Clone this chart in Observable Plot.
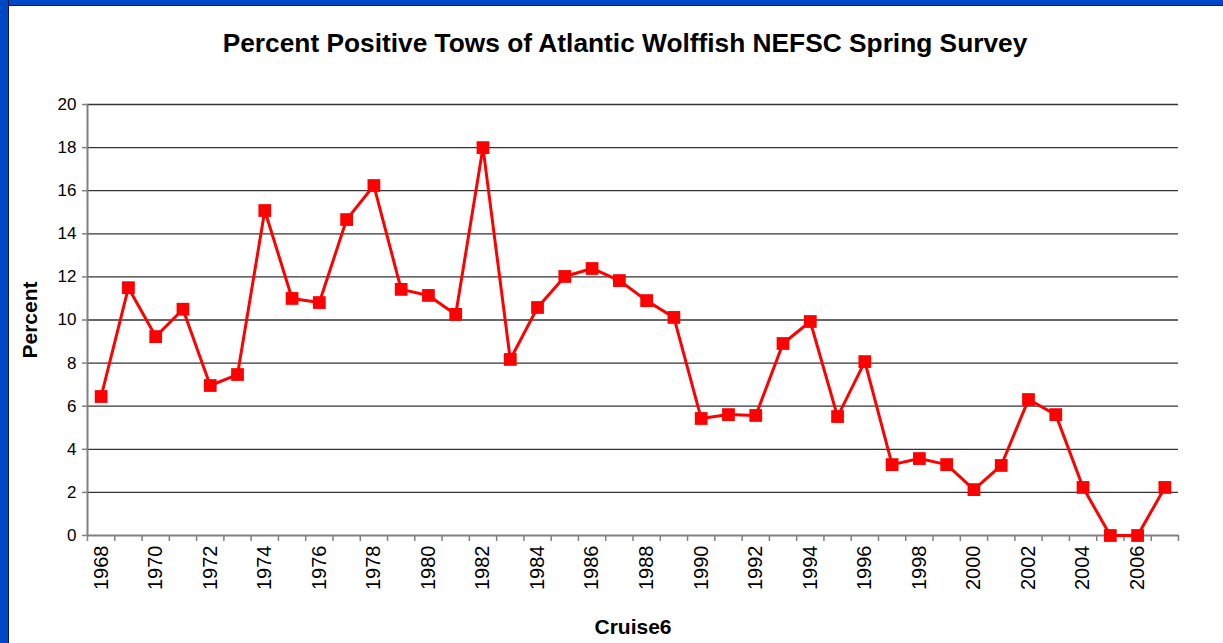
<!DOCTYPE html>
<html>
<head>
<meta charset="utf-8">
<script src="https://cdn.jsdelivr.net/npm/d3@7"></script>
<script src="https://cdn.jsdelivr.net/npm/@observablehq/plot@0.6"></script>
<style>
  html, body { margin: 0; padding: 0; background: #fff; }
  #wrap { position: relative; width: 1223px; height: 643px; overflow: hidden; background: #fff; font-family: "Liberation Sans", Arial, sans-serif; }
  #bl { position: absolute; left: 0; top: 0; width: 8px; height: 643px; background: #0047c8; border-right: 1.5px solid #0a1a3a; }
  #bt { position: absolute; left: 0; top: 0; width: 1223px; height: 5px; background: #0047c8; border-bottom: 1.5px solid #0a1a3a; }
  #chart { position: absolute; left: 0; top: 0; }
</style>
</head>
<body>
<div id="wrap">
  <div id="chart"></div>
  <div id="bt"></div>
  <div id="bl"></div>
</div>
<script>
const title = "Percent Positive Tows of Atlantic Wolffish NEFSC Spring Survey";
const xLabel = "Cruise6";
const yLabel = "Percent";
const years = d3.range(1968, 2008);
const percent = [6.45, 11.5, 9.23, 10.5, 6.96, 7.47, 15.08, 11.0, 10.81, 14.66,
  16.24, 11.42, 11.14, 10.26, 18.0, 8.17, 10.58, 12.02, 12.39, 11.83,
  10.9, 10.12, 5.43, 5.61, 5.57, 8.91, 9.93, 5.52, 8.07, 3.29,
  3.57, 3.29, 2.13, 3.25, 6.31, 5.61, 2.23, 0, 0, 2.23];
const yTicks = [0, 2, 4, 6, 8, 10, 12, 14, 16, 18, 20];
const xTickYears = years.filter(y => (y - 1968) % 2 === 0);

const data = years.map((year, i) => ({year, value: percent[i]}));
const boundaries = d3.range(years[0] - 0.5, years[years.length - 1] + 1, 1);
const axisGray = "#808080";

const chart = Plot.plot({
  width: 1223,
  height: 643,
  marginTop: 104,
  marginBottom: 108,
  marginLeft: 87,
  marginRight: 45,
  style: {background: "transparent", fontFamily: "'Liberation Sans', Arial, sans-serif", color: "#000"},
  x: {domain: [years[0] - 0.5, years[years.length - 1] + 0.5], axis: null},
  y: {domain: [0, 20], axis: null},
  marks: [
    Plot.ruleY(yTicks.filter(d => d > 0), {stroke: "#333", strokeWidth: 1.3}),
    Plot.ruleX([years[0] - 0.5], {stroke: axisGray, strokeWidth: 2}),
    Plot.ruleY([0], {stroke: axisGray, strokeWidth: 2}),
    Plot.axisY(yTicks, {anchor: "left", tickSize: 5, tickPadding: 6, stroke: axisGray, strokeWidth: 1.5, fontSize: 17, fill: "#000", label: null}),
    Plot.axisX(boundaries, {anchor: "bottom", tickSize: 6, stroke: axisGray, strokeWidth: 1.5, tickFormat: () => "", label: null}),
    Plot.axisX(xTickYears, {anchor: "bottom", tickSize: 0, tickPadding: 10, tickRotate: -90, textAnchor: "end", fontSize: 20, fill: "#000", tickFormat: d => String(d), label: null}),
    Plot.line(data, {x: "year", y: "value", stroke: "#ff0000", strokeWidth: 3}),
    Plot.dot(data, {x: "year", y: "value", symbol: "square", r: 7.2, fill: "#ff0000", stroke: "none"}),
    Plot.text([title], {frameAnchor: "top", lineAnchor: "middle", dx: -8, dy: -61, fontSize: 26.3, fontWeight: "bold", fill: "#000"}),
    Plot.text([yLabel], {frameAnchor: "left", lineAnchor: "middle", textAnchor: "middle", dx: -57, rotate: -90, fontSize: 21, fontWeight: "bold", fill: "#000"}),
    Plot.text([xLabel], {frameAnchor: "bottom", lineAnchor: "middle", dy: 92, fontSize: 21, fontWeight: "bold", fill: "#000"})
  ]
});
document.getElementById("chart").appendChild(chart);
</script>
</body>
</html>
